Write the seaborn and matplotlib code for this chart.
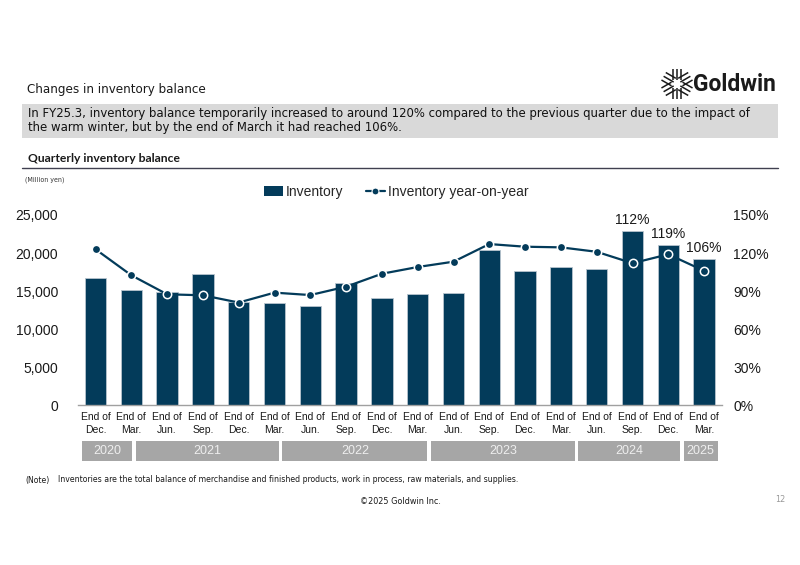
import numpy as np
import pandas as pd
import matplotlib.pyplot as plt
import matplotlib.transforms as mtransforms
from matplotlib.patches import Rectangle
from matplotlib.lines import Line2D
from matplotlib.ticker import FuncFormatter
import seaborn as sns

# quarter-end inventory balance (million yen) and year-on-year ratio (%)
quarters = ['Dec-20', 'Mar-21', 'Jun-21', 'Sep-21', 'Dec-21', 'Mar-22', 'Jun-22', 'Sep-22', 'Dec-22',
            'Mar-23', 'Jun-23', 'Sep-23', 'Dec-23', 'Mar-24', 'Jun-24', 'Sep-24', 'Dec-24', 'Mar-25']
tick_labels = ['End of\nDec.', 'End of\nMar.', 'End of\nJun.', 'End of\nSep.', 'End of\nDec.', 'End of\nMar.',
               'End of\nJun.', 'End of\nSep.', 'End of\nDec.', 'End of\nMar.', 'End of\nJun.', 'End of\nSep.',
               'End of\nDec.', 'End of\nMar.', 'End of\nJun.', 'End of\nSep.', 'End of\nDec.', 'End of\nMar.']
inventory = [16700, 15200, 14950, 17200, 13550, 13400, 13000, 16100, 14150,
             14600, 14700, 20400, 17650, 18200, 17900, 22900, 21050, 19200]
yoy = [123, 102.5, 87.5, 86.7, 81, 88.8, 86.9, 93.5, 103.7,
       109, 113.2, 127.1, 125, 124.5, 121, 112, 119, 106]
labelled = [15, 16, 17]

# calendar-year band under the axis (span in category units)
years = ['2020', '2021', '2022', '2023', '2024', '2025']
year_start = [-0.38, 1.13, 5.22, 9.36, 13.49, 16.43]
year_end = [1.02, 5.12, 9.27, 13.40, 16.34, 17.38]

NAVY = '#033b5a'
COND = dict(family='DejaVu Sans', fontstretch='condensed')

sns.set_theme(style='white')
plt.rcParams['font.family'] = ['Liberation Sans', 'DejaVu Sans']

W, H = 800, 565
fig = plt.figure(figsize=(8, 5.65), dpi=100)


def fx(px):
    return px / W


def fy(py):
    return 1 - py / H


# ---- header ----
fig.text(fx(27), fy(89), 'Changes in inventory balance', fontsize=9.5, va='center', color='#1a1a1a', **COND)
fig.patches.append(Rectangle((fx(22), fy(138)), fx(778) - fx(22), fy(104) - fy(138),
                             transform=fig.transFigure, facecolor='#d9d9d9', edgecolor='none'))
fig.text(fx(28), fy(113), 'In FY25.3, inventory balance temporarily increased to around 120% compared to the '
         'previous quarter due to the impact of', fontsize=9.4, va='center', color='#111111', **COND)
fig.text(fx(28), fy(128), 'the warm winter, but by the end of March it had reached 106%.',
         fontsize=9.4, va='center', color='#111111', **COND)
fig.text(fx(28), fy(158), 'Quarterly inventory balance', fontsize=8.7, family=['Lato', 'DejaVu Sans'],
         fontweight='bold', va='center', color='#1a1a1a')
fig.add_artist(Line2D([fx(22), fx(778)], [fy(168), fy(168)], transform=fig.transFigure,
                      color='#404050', lw=1))
fig.text(fx(25), fy(180), '(Million yen)', fontsize=5, va='center', color='#333333', **COND)

# logo
fig.text(fx(693), fy(84), 'Goldwin', fontsize=16.5, family=['Roboto', 'DejaVu Sans'], fontweight='bold',
         va='center', color='#1a1a1a')
lax = fig.add_axes([fx(660), fy(101), fx(34), 34 / H])
lax.set_xlim(-1.1, 1.1)
lax.set_ylim(-1.1, 1.1)
lax.axis('off')
for ang in [90, 30, 150]:
    a = np.radians(ang)
    d = np.array([np.cos(a), np.sin(a)])
    n = np.array([-np.sin(a), np.cos(a)])
    for off in [-0.28, 0, 0.28]:
        for s in [-1, 1]:
            p0 = d * s * 0.25 + n * off
            p1 = d * s * 1.0 + n * off
            lax.plot([p0[0], p1[0]], [p0[1], p1[1]], color='#1a1a1a', lw=1.1, solid_capstyle='butt')

# ---- chart ----
ax = fig.add_axes([fx(77.6), fy(405.3), fx(722) - fx(77.6), 190.3 / H])
df = pd.DataFrame({'quarter': quarters, 'inventory': inventory, 'yoy': yoy})
sns.barplot(data=df, x='quarter', y='inventory', order=quarters, color=NAVY, saturation=1,
            width=0.6, edgecolor='#b8c4ce', linewidth=0.6, ax=ax)
ax.set_xlim(-0.5, len(quarters) - 0.5)
ax.set_ylim(0, 25000)
ax.set_yticks(range(0, 25001, 5000))
ax.yaxis.set_major_formatter(FuncFormatter(lambda v, p: f'{int(v):,}'))
ax.set_xticks(range(len(quarters)))
ax.set_xticklabels(tick_labels, fontsize=7.5, linespacing=1.3, color='#1a1a1a')
ax.tick_params(axis='x', length=0, pad=5)
ax.tick_params(axis='y', length=0, pad=14, labelsize=10, labelcolor='#1a1a1a')
ax.set_xlabel('')
ax.set_ylabel('')
for sp in ['top', 'left', 'right']:
    ax.spines[sp].set_visible(False)
ax.spines['bottom'].set_color('#a0a0a0')
ax.spines['bottom'].set_linewidth(1)

ax2 = ax.twinx()
sns.lineplot(x=np.arange(len(quarters)), y=yoy, ax=ax2, color=NAVY, lw=1.6, marker='o',
             markersize=6, markerfacecolor=NAVY, markeredgecolor='white', markeredgewidth=1.1)
ax2.set_ylim(0, 150)
ax2.set_yticks(range(0, 151, 30))
ax2.yaxis.set_major_formatter(FuncFormatter(lambda v, p: f'{int(v)}%'))
ax2.tick_params(axis='y', length=0, pad=8, labelsize=10, labelcolor='#1a1a1a')
for sp in ax2.spines.values():
    sp.set_visible(False)

for i in labelled:
    ax.annotate(f'{yoy[i]:.0f}%', (i, inventory[i]), xytext=(0, 3), textcoords='offset points',
                ha='center', va='bottom', fontsize=10, color='#1a1a1a', annotation_clip=False)

# year band
trans = mtransforms.blended_transform_factory(ax.transData, ax.transAxes)
y0 = (405.3 - 461) / 190.3
y1 = (405.3 - 441) / 190.3
for yr, s, e in zip(years, year_start, year_end):
    ax.add_patch(Rectangle((s, y0), e - s, y1 - y0, transform=trans, facecolor='#a6a6a6',
                           edgecolor='none', clip_on=False))
    ax.text((s + e) / 2, (y0 + y1) / 2, yr, transform=trans, ha='center', va='center',
            fontsize=9, color='#eeeeee')

# legend
handles = [Rectangle((0, 0), 1, 1, facecolor=NAVY, edgecolor='none'),
           Line2D([0], [0], color=NAVY, lw=1.6, marker='o', markersize=5, markerfacecolor=NAVY,
                  markeredgecolor='white', markeredgewidth=0.8)]
fig.legend(handles, ['Inventory', 'Inventory year-on-year'], loc='center', bbox_to_anchor=(fx(396), fy(192)),
           ncol=2, frameon=False, fontsize=10, handlelength=1.4, handletextpad=0.2, columnspacing=1.6,
           handleheight=0.8)

# ---- footer ----
fig.text(fx(25), fy(480), '(Note)', fontsize=6.2, va='center', color='#1a1a1a', **COND)
fig.text(fx(58), fy(480), 'Inventories are the total balance of merchandise and finished products, '
         'work in process, raw materials, and supplies.', fontsize=6.2, va='center',
         color='#1a1a1a', **COND)
fig.text(fx(400), fy(501), '\u00a92025 Goldwin Inc.', fontsize=6.5, ha='center',
         va='center', color='#1a1a1a', **COND)
fig.text(fx(780), fy(500), '12', fontsize=6.5, ha='center', va='center', color='#999999', **COND)

fig.savefig('out.png', dpi=100)
